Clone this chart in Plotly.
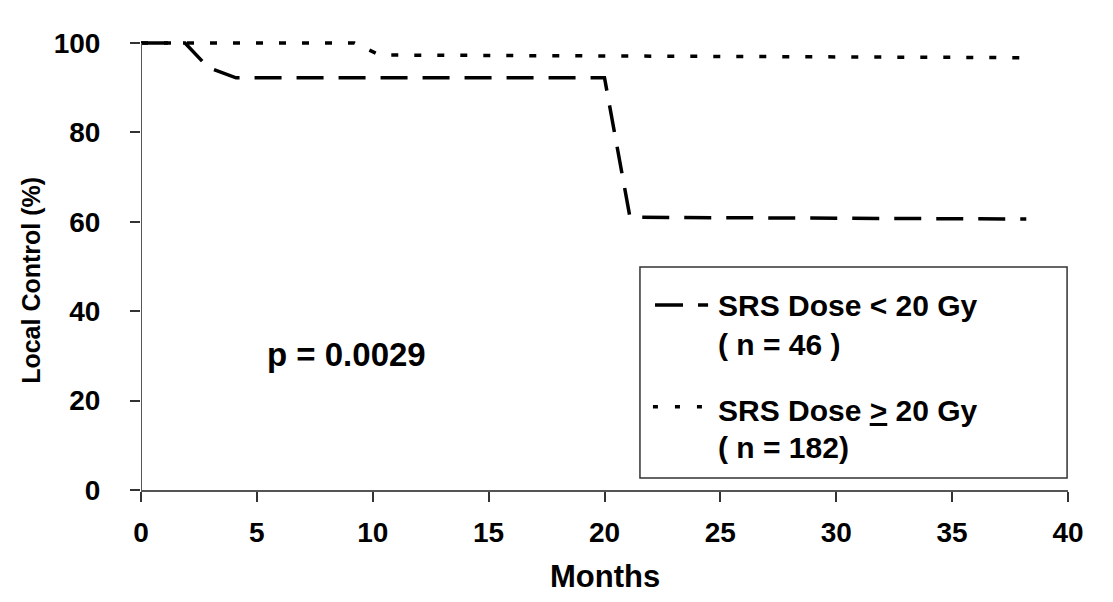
import plotly.graph_objects as go

# Kaplan-Meier style local control curves by SRS dose group
months_lt20 = [0, 1.9, 2.9, 4.1, 20.0, 21.1, 38.2]
control_lt20 = [100, 100, 94.5, 92.2, 92.2, 61.0, 60.6]

months_ge20 = [0, 9.2, 10.3, 38.2]
control_ge20 = [100, 100, 97.3, 96.7]

x_ticks = [0, 5, 10, 15, 20, 25, 30, 35, 40]
y_ticks = [0, 20, 40, 60, 80, 100]

p_value_text = "p = 0.0029"
legend_labels = [
    ("SRS Dose &lt; 20 Gy", "( n = 46 )"),
    ("SRS Dose <u>&gt;</u> 20 Gy", "( n = 182)"),
]

FONT = "Liberation Sans, Arial, Helvetica, sans-serif"
DASH_LONG = "27px,15px"
DASH_SHORT = "7px,16px"

fig = go.Figure()
fig.add_trace(go.Scatter(
    x=months_lt20, y=control_lt20, mode="lines",
    line=dict(color="black", width=3.5, dash=DASH_LONG),
    showlegend=False, name="SRS Dose < 20 Gy",
))
fig.add_trace(go.Scatter(
    x=months_ge20, y=control_ge20, mode="lines",
    line=dict(color="black", width=3.5, dash=DASH_SHORT),
    showlegend=False, name="SRS Dose >= 20 Gy",
))

axis_color = "#555555"

# y axis line drawn up to the 100 tick only
shapes = [
    dict(type="line", xref="x", yref="y", x0=0, x1=0, y0=0, y1=100,
         line=dict(color=axis_color, width=2), layer="above"),
    # legend frame
    dict(type="rect", xref="x", yref="y", x0=21.53, x1=39.96, y0=2.7, y1=49.9,
         line=dict(color="#333333", width=1.5), fillcolor="rgba(0,0,0,0)"),
    # legend samples
    dict(type="line", xref="x", yref="y", x0=22.18, x1=24.47, y0=41.4, y1=41.4,
         line=dict(color="black", width=3.5, dash="28px,15px")),
    dict(type="line", xref="x", yref="y", x0=22.09, x1=24.25, y0=18.6, y1=18.6,
         line=dict(color="black", width=3.5, dash="5px,17px")),
]

annotations = [
    dict(text="Months", xref="paper", yref="paper", x=0.5, y=-0.19,
         xanchor="center", yanchor="middle", showarrow=False,
         font=dict(family=FONT, size=31, color="black", weight="bold")),
    dict(text="Local Control (%)", xref="paper", yref="paper", x=-0.118, y=0.46,
         xanchor="center", yanchor="middle", textangle=-90, showarrow=False,
         font=dict(family=FONT, size=25, color="black", weight="bold")),
    dict(text=p_value_text, xref="x", yref="y", x=5.35, y=30.2,
         xanchor="left", yanchor="middle", showarrow=False,
         font=dict(family=FONT, size=33, color="black", weight="bold")),
]

legend_rows = [(41.2, 32.6), (17.7, 9.6)]
for (label, count), (y1, y2) in zip(legend_labels, legend_rows):
    for txt, yy in ((label, y1), (count, y2)):
        annotations.append(dict(
            text=txt, xref="x", yref="y", x=24.81, y=yy,
            xanchor="left", yanchor="middle", showarrow=False,
            font=dict(family=FONT, size=30, color="black", weight="bold"),
        ))

fig.update_layout(
    width=1113, height=602,
    margin=dict(l=141, r=45, t=34, b=112, pad=0),
    paper_bgcolor="white", plot_bgcolor="white",
    shapes=shapes, annotations=annotations,
    xaxis=dict(
        range=[0, 40], tickvals=x_ticks, ticktext=[str(v) for v in x_ticks],
        showline=True, linecolor=axis_color, linewidth=2,
        ticks="outside", ticklen=10, tickwidth=1.5, tickcolor="#333333",
        showgrid=False, zeroline=False,
        tickfont=dict(family=FONT, size=28, color="black", weight="bold"),
        ticklabelstandoff=6,
    ),
    yaxis=dict(
        range=[0, 102], tickvals=y_ticks, ticktext=[str(v) for v in y_ticks],
        showline=False,
        ticks="outside", ticklen=10, tickwidth=1.5, tickcolor="#333333",
        showgrid=False, zeroline=False,
        tickfont=dict(family=FONT, size=28, color="black", weight="bold"),
        ticklabelstandoff=24,
    ),
)

fig.write_html("out.html")
